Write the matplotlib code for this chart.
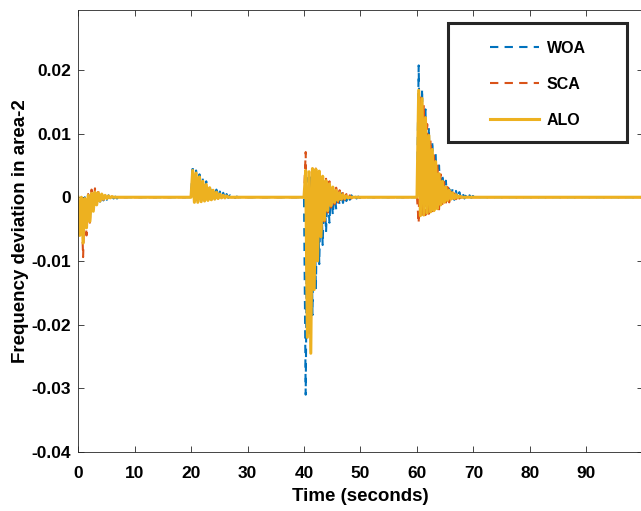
import numpy as np
import matplotlib
matplotlib.use("Agg")
import matplotlib.pyplot as plt
from matplotlib.patches import Rectangle

plt.rcParams['font.family'] = ['Liberation Sans', 'DejaVu Sans']
plt.rcParams['font.weight'] = 'bold'

# disturbance instants (s) and spacing of the swing peaks
events = [0, 20, 40, 60]
dt = 0.3
t_end = 100

# WOA swing peaks after each disturbance
woa_0 = [0, -0.0064, 0.0002, -0.006, 0.0, -0.0045, 0.0004, -0.0035, 0.0006, -0.002, 0.0007,
         -0.0012, 0.0007, -0.0007, 0.0005, -0.0005, 0.0004, -0.0004, 0.0003, -0.0003, 0.0002,
         -0.0002, 0.0001, -0.0002, 0.0001, -0.0001, 0]
woa_20 = [0, 0.005, -0.0006, 0.0042, -0.0006, 0.0036, -0.0005, 0.003, -0.0005, 0.0025, -0.0004,
          0.002, -0.0004, 0.0016, -0.0003, 0.0012, -0.0003, 0.0009, -0.0002, 0.0007, -0.0002,
          0.0005, -0.0001, 0.0003, -0.0001, 0.0002, -0.0001, 0.0001, 0]
woa_40 = [0, -0.031, 0.003, -0.0215, 0.0035, -0.0185, 0.0035, -0.0145, 0.003, -0.0105, 0.0025,
          -0.0075, 0.002, -0.0055, 0.0016, -0.004, 0.0013, -0.0028, 0.001, -0.0019, 0.0008,
          -0.0013, 0.0006, -0.0009, 0.0005, -0.0006, 0.0004, -0.0004, 0.0003, -0.0003, 0.0002,
          -0.0002, 0.0001, -0.0001, 0]
woa_60 = [0, 0.0207, -0.002, 0.017, -0.0022, 0.0138, -0.002, 0.011, -0.0018, 0.0088, -0.0015,
          0.0068, -0.0012, 0.005, -0.001, 0.0036, -0.0008, 0.0026, -0.0006, 0.0019, -0.0005,
          0.0014, -0.0004, 0.001, -0.0003, 0.0008, -0.0002, 0.0006, -0.0002, 0.0004, -0.0001,
          0.0003, -0.0001, 0.0002, -0.0001, 0.0001, 0]

# SCA
sca_0 = [0, -0.005, -0.0005, -0.0094, -0.0005, -0.006, 0.0005, -0.004, 0.0012, -0.0022, 0.0014,
         -0.0012, 0.001, -0.0006, 0.0006, -0.0004, 0.0004, -0.0002, 0.0002, -0.0001, 0.0001, 0]
sca_20 = [0, 0.004, -0.0009, 0.0036, -0.0008, 0.003, -0.0007, 0.0024, -0.0006, 0.0019, -0.0005,
          0.0014, -0.0004, 0.001, -0.0003, 0.0007, -0.0002, 0.0005, -0.0001, 0.0003, -0.0001,
          0.0002, 0]
sca_40 = [0, 0.0071, -0.02, 0.004, -0.022, 0.0045, -0.014, 0.0045, -0.0092, 0.0041, -0.006,
          0.0035, -0.0038, 0.0029, -0.0024, 0.0025, -0.0016, 0.002, -0.0011, 0.0015, -0.0008,
          0.0011, -0.0006, 0.0008, -0.0004, 0.0005, -0.0003, 0.0003, -0.0002, 0.0002, -0.0001, 0]
sca_60 = [0, -0.0041, 0.016, -0.003, 0.0145, -0.0028, 0.0115, -0.0026, 0.009, -0.0024, 0.007,
          -0.0022, 0.0052, -0.0019, 0.0036, -0.0015, 0.0024, -0.0011, 0.0016, -0.0008, 0.001,
          -0.0005, 0.0006, -0.0003, 0.0003, -0.0002, 0.0001, 0]

# ALO
alo_0 = [0, -0.006, 0.0, -0.0072, -0.0002, -0.0048, 0.0003, -0.0038, 0.0006, -0.0022, 0.0008,
         -0.0012, 0.0007, -0.0006, 0.0005, -0.0003, 0.0003, -0.0002, 0.0002, -0.0001, 0.0001, 0]
alo_20 = [0, 0.0042, -0.0008, 0.0038, -0.0008, 0.0032, -0.0007, 0.0025, -0.0006, 0.002, -0.0005,
          0.0015, -0.0004, 0.0011, -0.0003, 0.0008, -0.0002, 0.0005, -0.0001, 0.0003, -0.0001,
          0.0002, 0]
alo_40 = [0, 0.0042, -0.022, 0.004, -0.0245, 0.0045, -0.0145, 0.0044, -0.01, 0.0041, -0.0062,
          0.0033, -0.0036, 0.0026, -0.0021, 0.0021, -0.0013, 0.0016, -0.0008, 0.0011, -0.0005,
          0.0007, -0.0003, 0.0004, -0.0002, 0.0002, -0.0001, 0]
alo_60 = [0, 0.0168, -0.0029, 0.0155, -0.0028, 0.0125, -0.0025, 0.0097, -0.0023, 0.0075, -0.0021,
          0.0056, -0.0018, 0.0037, -0.0012, 0.0025, -0.0008, 0.0016, -0.0005, 0.0011, -0.0003,
          0.0007, -0.0002, 0.0004, -0.0001, 0.0002, 0]

xticks = [0, 10, 20, 30, 40, 50, 60, 70, 80, 90]
yticks = [-0.04, -0.03, -0.02, -0.01, 0, 0.01, 0.02]
ytick_labels = ['-0.04', '-0.03', '-0.02', '-0.01', '0', '0.01', '0.02']


def build(parts):
    t, v = [], []
    for t0, vals in zip(events, parts):
        t.extend(t0 + dt * np.arange(len(vals)))
        v.extend(vals)
    t.append(t_end)
    v.append(0)
    return np.array(t), np.array(v)


fig = plt.figure(figsize=(6.41, 5.11), dpi=100)
ax = fig.add_axes([0.1217, 0.1155, 0.8814, 0.8649])

dash = (0, (4, 3))
t, v = build([woa_0, woa_20, woa_40, woa_60])
ax.plot(t, v, color='#0072BD', lw=1.5, ls=dash, label='WOA')
t, v = build([sca_0, sca_20, sca_40, sca_60])
ax.plot(t, v, color='#D95319', lw=1.5, ls=dash, label='SCA')
t, v = build([alo_0, alo_20, alo_40, alo_60])
ax.plot(t, v, color='#EDB120', lw=2.2, label='ALO')

ax.set_xlim(0, 100)
ax.set_ylim(-0.04, 0.0294)
ax.set_xticks(xticks)
ax.set_xticklabels([str(x) for x in xticks])
ax.set_yticks(yticks)
ax.set_yticklabels(ytick_labels)
ax.tick_params(direction='in', length=4, width=0.6, color='#262626', labelsize=12.5,
               top=True, right=True)
ax.tick_params(axis='x', pad=10)
ax.tick_params(axis='y', pad=5)
for s in ax.spines.values():
    s.set_color('#262626')
    s.set_linewidth(0.6)

ax.set_xlabel('Time (seconds)', fontsize=13.5, fontweight='bold', labelpad=5)
ax.set_ylabel('Frequency deviation in area-2', fontsize=13.5, fontweight='bold', labelpad=2)

# legend box drawn like the MATLAB one
ax.add_patch(Rectangle((0.6549, 0.7014), 0.3168, 0.2692, transform=ax.transAxes,
                       facecolor='white', edgecolor='#262626', lw=2.2, zorder=5))
leg = ax.legend(loc='upper left', bbox_to_anchor=(0.729, 0.930), frameon=False,
                fontsize=11.5, handlelength=3.1, handletextpad=0.45, labelspacing=1.31,
                borderpad=0, borderaxespad=0)
leg.set_zorder(6)

fig.savefig('out.png', dpi=100)
